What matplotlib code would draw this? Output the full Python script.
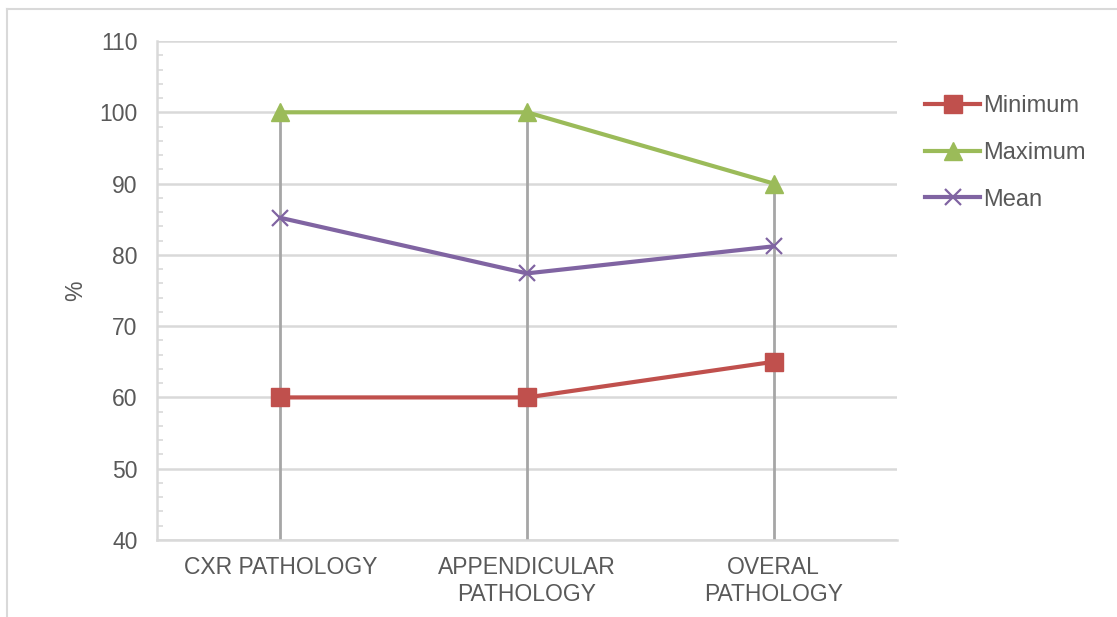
import matplotlib.pyplot as plt
from matplotlib.lines import Line2D
import numpy as np

plt.rcParams['font.family'] = ['Liberation Sans', 'DejaVu Sans']

categories = ['CXR PATHOLOGY', 'APPENDICULAR\nPATHOLOGY', 'OVERAL\nPATHOLOGY']
minimum = [60, 60, 65]
maximum = [100, 100, 90]
mean = [85.2, 77.4, 81.2]

grid_col = '#d9d9d9'
text_col = '#595959'

fig = plt.figure(figsize=(11.17, 6.17), dpi=100)
ax = fig.add_axes([157/1117, 77/617, 740/1117, 499/617])

x = np.arange(len(categories))

# drop lines from the highest point of each category down to the axis
tops = np.max([minimum, maximum, mean], axis=0)
ax.vlines(x, 40, tops, color='#a6a6a6', lw=2, zorder=2)

ax.plot(x, minimum, color='#c0504d', lw=3, marker='s', ms=12.5, label='Minimum', zorder=3)
ax.plot(x, maximum, color='#9bbb59', lw=3, marker='^', ms=13, label='Maximum', zorder=3)
ax.plot(x, mean, color='#8064a2', lw=3, marker='x', ms=11, mew=1.6, label='Mean', zorder=3)

ax.set_xlim(-0.5, 2.5)
ax.set_ylim(40, 110)
ax.set_yticks(range(40, 111, 10))
ax.set_yticks(range(40, 111, 2), minor=True)
ax.set_xticks(x)
ax.set_xticklabels(categories, fontsize=16.5, color=text_col, linespacing=1.25)
ax.tick_params(axis='y', which='major', length=0, pad=14, labelsize=16.5, labelcolor=text_col)
ax.tick_params(axis='y', which='minor', direction='in', length=4.5, width=1.2, color=grid_col)
ax.tick_params(axis='x', length=0, pad=11.5)
ax.grid(axis='y', which='major', color=grid_col, lw=1.8, zorder=0)
ax.set_axisbelow(True)

for s in ['top', 'right']:
    ax.spines[s].set_visible(False)
for s in ['left', 'bottom']:
    ax.spines[s].set_color(grid_col)
    ax.spines[s].set_linewidth(1.8)

ax.set_ylabel('%', fontsize=16.5, color=text_col, labelpad=9)

fig.legend(loc='upper left', bbox_to_anchor=(925/1117, 1 - 95/617), frameon=False,
           fontsize=17, handlelength=2.33, handletextpad=0.12, borderpad=0,
           borderaxespad=0, labelspacing=1.05, labelcolor=text_col)

# outer chart border
fig.add_artist(Line2D([7/1117, 7/1117], [0, 1 - 9/617], color=grid_col, lw=1.5))
fig.add_artist(Line2D([7/1117, 1], [1 - 9/617, 1 - 9/617], color=grid_col, lw=1.5))

fig.savefig('out.png', dpi=100, facecolor='white')
